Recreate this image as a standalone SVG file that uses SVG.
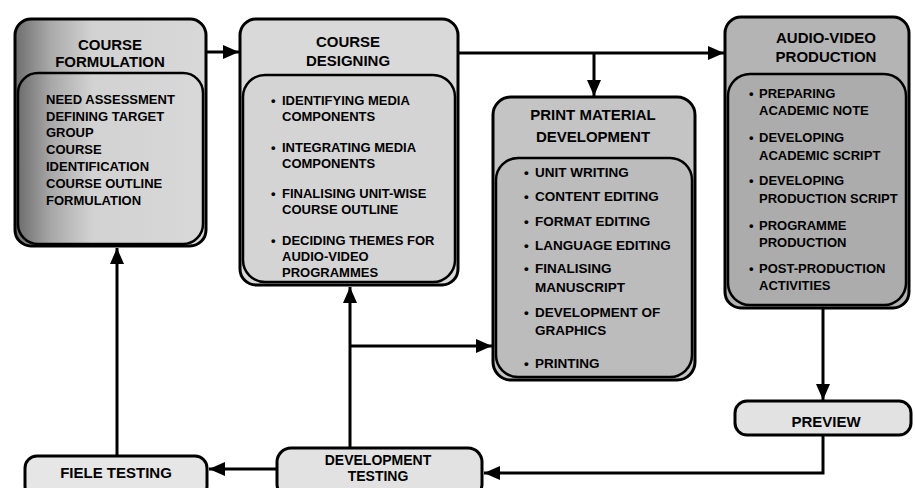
<svg xmlns="http://www.w3.org/2000/svg" width="915" height="488" viewBox="0 0 915 488">
<defs>
<linearGradient id="gForm" x1="0" y1="0" x2="1" y2="0">
<stop offset="0" stop-color="#6e6e6e"/>
<stop offset="0.18" stop-color="#a8a8a8"/>
<stop offset="0.4" stop-color="#d2d2d2"/>
<stop offset="1" stop-color="#d8d8d8"/>
</linearGradient>
<marker id="ah" markerUnits="userSpaceOnUse" markerWidth="16" markerHeight="14" viewBox="0 0 16 14" refX="16" refY="7" orient="auto">
<path d="M0,0 L16,7 L0,14 z" fill="#000"/>
</marker>
</defs>
<style>
.box{stroke:#000;stroke-width:3}
.inner{stroke:#000;stroke-width:2.5}
.t{font-family:"Liberation Sans",Arial,sans-serif;font-weight:bold;fill:#000}
.title{font-size:15px;text-anchor:middle}
.item{font-size:13px}
.big{font-size:13.5px}
.small{font-size:14px}
.conn path{fill:none;stroke:#000;stroke-width:3}
</style>
<rect width="915" height="488" fill="#fff"/>

<g id="course-formulation">
<rect class="box" x="15" y="19" width="191" height="227" rx="16" fill="url(#gForm)"/>
<rect class="inner" x="18" y="73" width="185" height="171" rx="20" fill="url(#gForm)"/>
<text class="t title" x="110" y="50">COURSE</text>
<text class="t title" x="110" y="67">FORMULATION</text>
<text class="t item" x="46" y="104">NEED ASSESSMENT</text>
<text class="t item" x="46" y="121">DEFINING TARGET</text>
<text class="t item" x="46" y="137">GROUP</text>
<text class="t item" x="46" y="154">COURSE</text>
<text class="t item" x="46" y="171">IDENTIFICATION</text>
<text class="t item" x="46" y="188">COURSE OUTLINE</text>
<text class="t item" x="46" y="205">FORMULATION</text>
</g>

<g id="course-designing">
<rect class="box" x="240" y="19" width="218" height="266" rx="16" fill="#d9d9d9"/>
<rect class="inner" x="243" y="75" width="212" height="207" rx="22" fill="#d4d4d4"/>
<text class="t title" x="348" y="47">COURSE</text>
<text class="t title" x="348" y="66">DESIGNING</text>
<text class="t item" x="271" y="105">•</text><text class="t item" x="282" y="105">IDENTIFYING MEDIA</text>
<text class="t item" x="282" y="121">COMPONENTS</text>
<text class="t item" x="271" y="152">•</text><text class="t item" x="282" y="152">INTEGRATING MEDIA</text>
<text class="t item" x="282" y="168">COMPONENTS</text>
<text class="t item" x="271" y="198">•</text><text class="t item" x="282" y="198">FINALISING UNIT-WISE</text>
<text class="t item" x="282" y="214">COURSE OUTLINE</text>
<text class="t item" x="271" y="245">•</text><text class="t item" x="282" y="245">DECIDING THEMES FOR</text>
<text class="t item" x="282" y="261">AUDIO-VIDEO</text>
<text class="t item" x="282" y="277">PROGRAMMES</text>
</g>

<g id="print-material-development">
<rect class="box" x="493" y="97" width="202" height="283" rx="18" fill="#c4c4c4"/>
<rect class="inner" x="496" y="158" width="196" height="219" rx="22" fill="#bcbcbc"/>
<text class="t title" x="593" y="120">PRINT MATERIAL</text>
<text class="t title" x="593" y="142">DEVELOPMENT</text>
<text class="t big" x="524" y="177">•</text><text class="t big" x="535" y="177">UNIT WRITING</text>
<text class="t big" x="524" y="201">•</text><text class="t big" x="535" y="201">CONTENT EDITING</text>
<text class="t big" x="524" y="226">•</text><text class="t big" x="535" y="226">FORMAT EDITING</text>
<text class="t big" x="524" y="250">•</text><text class="t big" x="535" y="250">LANGUAGE EDITING</text>
<text class="t big" x="524" y="273">•</text><text class="t big" x="535" y="273">FINALISING</text>
<text class="t big" x="535" y="292">MANUSCRIPT</text>
<text class="t big" x="524" y="317">•</text><text class="t big" x="535" y="317">DEVELOPMENT OF</text>
<text class="t big" x="535" y="335">GRAPHICS</text>
<text class="t big" x="524" y="368">•</text><text class="t big" x="535" y="368">PRINTING</text>
</g>

<g id="audio-video-production">
<rect class="box" x="725" y="17" width="184" height="291" rx="16" fill="#b4b4b4"/>
<rect class="inner" x="728" y="74" width="178" height="231" rx="22" fill="#acacac"/>
<text class="t title" x="826" y="43">AUDIO-VIDEO</text>
<text class="t title" x="826" y="62">PRODUCTION</text>
<text class="t item" x="749" y="98">•</text><text class="t item" x="759" y="98">PREPARING</text>
<text class="t item" x="759" y="115">ACADEMIC NOTE</text>
<text class="t item" x="749" y="142">•</text><text class="t item" x="759" y="142">DEVELOPING</text>
<text class="t item" x="759" y="160">ACADEMIC SCRIPT</text>
<text class="t item" x="749" y="185">•</text><text class="t item" x="759" y="185">DEVELOPING</text>
<text class="t item" x="759" y="203">PRODUCTION SCRIPT</text>
<text class="t item" x="749" y="230">•</text><text class="t item" x="759" y="230">PROGRAMME</text>
<text class="t item" x="759" y="247">PRODUCTION</text>
<text class="t item" x="749" y="273">•</text><text class="t item" x="759" y="273">POST-PRODUCTION</text>
<text class="t item" x="759" y="290">ACTIVITIES</text>
</g>

<g id="preview">
<rect class="box" x="735" y="401" width="176" height="34" rx="12" fill="#e2e2e2"/>
<text class="t title" x="826" y="427">PREVIEW</text>
</g>

<g id="development-testing">
<rect class="box" x="277" y="448" width="205" height="50" rx="14" fill="#e2e2e2"/>
<text class="t title small" x="378" y="465">DEVELOPMENT</text>
<text class="t title small" x="378" y="481">TESTING</text>
</g>

<g id="field-testing">
<rect class="box" x="25" y="456" width="182" height="42" rx="12" fill="#e6e6e6"/>
<text class="t title" x="116" y="478">FIELE TESTING</text>
</g>

<g id="connectors" class="conn">
<path d="M206,52 H239" marker-end="url(#ah)"/>
<path d="M458,53 H724" marker-end="url(#ah)"/>
<path d="M594,53 V96" marker-end="url(#ah)"/>
<path d="M823,308 V400" marker-end="url(#ah)"/>
<path d="M823,435 V473 H484" marker-end="url(#ah)"/>
<path d="M277,469 H209" marker-end="url(#ah)"/>
<path d="M117,456 V248" marker-end="url(#ah)"/>
<path d="M350,448 V287" marker-end="url(#ah)"/>
<path d="M350,346 H492" marker-end="url(#ah)"/>
</g>
</svg>
